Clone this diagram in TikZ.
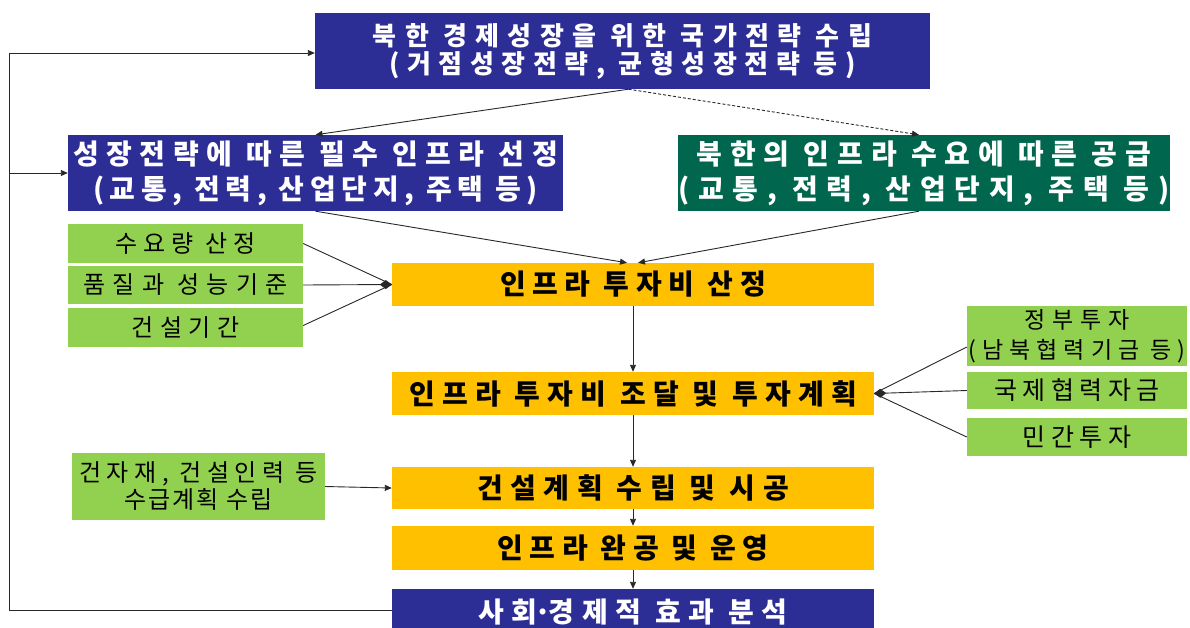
\documentclass[tikz,border=0pt]{standalone}
\usepackage{fontspec}
\newfontfamily\kr{Noto Sans CJK KR}
\usetikzlibrary{arrows.meta}
\definecolor{dblue}{RGB}{45,45,150}
\definecolor{dgreen}{RGB}{0,102,78}
\definecolor{lgreen}{RGB}{146,208,80}
\definecolor{yel}{RGB}{255,192,0}
\definecolor{ln}{RGB}{40,40,40}
\newcommand\kfb[3]{\fontsize{#1}{#2}\kr\bfseries\addfontfeatures{LetterSpace=#3}}
\newcommand\kfr[3]{\fontsize{#1}{#2}\kr\mdseries\addfontfeatures{LetterSpace=#3}}
\newcommand\ls[1]{\addfontfeatures{LetterSpace=#1}}
\tikzset{
  basebox/.style={rectangle, inner sep=0pt, align=center, draw=none},
  bluebox/.style={basebox, fill=dblue, text=white},
  dgbox/.style={basebox, fill=dgreen, text=white},
  lgbox/.style={basebox, fill=lgreen, text=black},
  yelbox/.style={basebox, fill=yel, text=black, minimum width=482pt, minimum height=43pt},
  arr/.style={draw=ln, line width=0.9pt, -{Triangle[length=7pt,width=6pt]}},
  dia/.style={draw=ln, line width=0.9pt, -{Diamond[length=12pt,width=9pt]}},
  plain/.style={draw=ln, line width=0.9pt},
}
\begin{document}
\begin{tikzpicture}[x=1pt,y=-1pt]
\useasboundingbox (0,0) rectangle (1190,627);
\clip (0,0) rectangle (1190,627);
\fill[white] (0,0) rectangle (1190,627);

\node[bluebox, minimum width=615pt, minimum height=76pt, font=\kfb{26}{28}{32}] (top) at (622.5,51)
  {북한 경제성장을 위한 국가전략 수립\\\ls{29}(거점성장전략, 균형성장전략 등)};
\node[bluebox, minimum width=495pt, minimum height=76pt, font=\kfb{28}{35}{27}] (lb) at (315.5,173)
  {성장전략에 따른 필수 인프라 선정\\\ls{20}(교통, 전력, 산업단지, 주택 등)};
\node[dgbox, minimum width=492pt, minimum height=76pt, font=\kfb{28}{35}{28}] (dg) at (924,173)
  {북한의 인프라 수요에 따른 공급\\\ls{31}(교통, 전력, 산업단지, 주택 등)};

\node[lgbox, minimum width=235pt, minimum height=39pt, font=\kfr{24}{26}{26}] (g1) at (185.5,243.5) {수요량 산정};
\node[lgbox, minimum width=235pt, minimum height=38pt, font=\kfr{24}{26}{31}] (g2) at (185.5,285) {품질과 성능기준};
\node[lgbox, minimum width=235pt, minimum height=39pt, font=\kfr{24}{26}{28}] (g3) at (185.5,327.5) {건설기간};

\node[yelbox, font=\kfb{28}{30}{24}] (y1) at (633,284.5) {인프라 투자비 산정};
\node[yelbox, font=\kfb{28}{30}{26}] (y2) at (633,393.5) {인프라 투자비 조달 및 투자계획};
\node[yelbox, minimum height=42pt, font=\kfb{28}{30}{27}] (y3) at (633,488) {건설계획 수립 및 시공};
\node[yelbox, minimum height=44pt, font=\kfb{28}{30}{23}] (y4) at (633,548) {인프라 완공 및 운영};
\node[bluebox, minimum width=482pt, minimum height=46pt, font=\kfb{28}{30}{27}] (bb) at (633,612) {사회\kern-3pt·\kern-3pt경제적 효과 분석};

\node[lgbox, minimum width=220pt, minimum height=60pt, font=\kfr{23}{30}{29}] (r1) at (1077,336) {정부투자\\\ls{26}(남북협력기금 등)};
\node[lgbox, minimum width=220pt, minimum height=37pt, font=\kfr{25}{27}{22}] (r2) at (1077,390.5) {국제협력자금};
\node[lgbox, minimum width=220pt, minimum height=38pt, font=\kfr{25}{27}{23}] (r3) at (1077,437) {민간투자};

\node[lgbox, minimum width=253pt, minimum height=67pt, font=\kfr{24}{27}{23}] (bl) at (198.5,486.5) {건자재, 건설인력 등\\\ls{8}수급계획 수립};

\coordinate (lx) at (9,0);

% top connectors
\draw[arr] ([xshift=6pt]top.south) -- (lb.north);
\draw[arr, dashed, dash pattern=on 3pt off 2pt] ([xshift=6pt]top.south) -- ([xshift=-5pt]dg.north);
\draw[arr] (lb.south) -- ([xshift=-6pt]y1.north);
\draw[arr] ([xshift=-5pt]dg.south) -- ([xshift=5pt]y1.north);

% left inputs
\draw[plain] (g1.east) -- (y1.west);
\draw[dia] (g2.east) -- (y1.west);
\draw[plain] ([yshift=2pt]g3.east) -- (y1.west);

% right inputs
\draw[plain] ([yshift=-11pt]r1.west) -- (y2.east);
\draw[dia] (r2.west) -- (y2.east);
\draw[plain] (r3.west) -- (y2.east);

% main flow
\draw[arr] (y1.south) -- (y2.north);
\draw[arr] (y2.south) -- (y3.north);
\draw[arr] (y3.south) -- (y4.north);
\draw[arr] (y4.south) -- (bb.north);
\draw[arr] (bl.east) -- (y3.west);

% feedback loop
\coordinate (bbl) at ([yshift=2pt]bb.west);
\draw[arr] (bbl) -- (bbl -| lx) -- ([yshift=-2pt]top.west -| lx) -- ([yshift=-2pt]top.west);
\draw[arr] (lb.west -| lx) -- (lb.west);
\end{tikzpicture}
\end{document}
